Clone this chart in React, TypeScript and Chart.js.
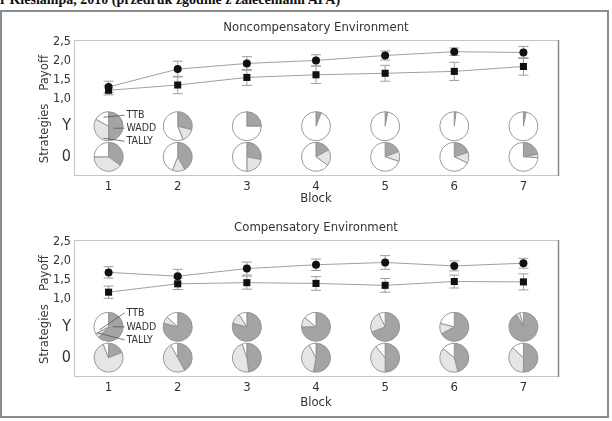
import React, { useEffect, useRef } from 'react';
import { Chart, registerables, ArcElement } from 'chart.js';

Chart.register(...registerables);

const FONT = "'Liberation Sans Narrow', 'DejaVu Sans Condensed', 'Roboto Condensed', 'Roboto', sans-serif";

const blocks = [1, 2, 3, 4, 5, 6, 7];
const yTickValues = [2.5, 2.0, 1.5, 1.0];
const yTickLabels = ['2,5', '2,0', '1,5', '1,0'];
const rowValues = [0.27, -0.54];
const rowLabels = ['Y', '0'];
// slice order, clockwise from 12 o'clock
const strategyNames = ['WADD', 'TALLY', 'TTB'];
const strategyColors = ['#a4a4a4', '#e5e5e5', '#ffffff'];

// Noncompensatory environment
const nonCircle = [1.31, 1.78, 1.93, 2.01, 2.14, 2.24, 2.22];
const nonCircleErr = [0.15, 0.21, 0.18, 0.15, 0.12, 0.1, 0.16];
const nonSquare = [1.22, 1.36, 1.56, 1.63, 1.67, 1.72, 1.85];
const nonSquareErr = [0.12, 0.23, 0.21, 0.23, 0.21, 0.24, 0.23];
// shares in % : [WADD, TALLY, TTB]
const nonYoung = [[50, 33, 17], [29, 15, 56], [25, 0, 75], [6, 0, 94], [3, 0, 97], [2, 0, 98], [3, 0, 97]];
const nonOld = [[35, 40, 25], [42, 14, 44], [28, 22, 50], [17, 18, 65], [19, 11, 70], [20, 12, 68], [22, 4, 74]];

// Compensatory environment
const compCircle = [1.7, 1.6, 1.8, 1.9, 1.96, 1.87, 1.94];
const compCircleErr = [0.15, 0.18, 0.17, 0.15, 0.18, 0.13, 0.13];
const compSquare = [1.18, 1.4, 1.43, 1.41, 1.36, 1.46, 1.45];
const compSquareErr = [0.16, 0.15, 0.17, 0.18, 0.18, 0.17, 0.21];
const compYoung = [[62, 5, 33], [79, 8, 13], [79, 12, 9], [75, 11, 14], [69, 24, 7], [67, 12, 21], [92, 4, 4]];
const compOld = [[19, 75, 6], [42, 50, 8], [48, 47, 5], [53, 39, 8], [50, 39, 11], [46, 40, 14], [50, 37, 13]];

const PIE_R = 14.5;

function boxPlugin() {
  return {
    id: 'plotBox',
    beforeDatasetsDraw(chart: any) {
      const { ctx, chartArea: a } = chart;
      ctx.save();
      ctx.strokeStyle = '#c6c6c6';
      ctx.lineWidth = 1;
      ctx.strokeRect(a.left + 0.5, a.top + 0.5, a.right - a.left, a.bottom - a.top);
      ctx.strokeStyle = '#8a8a8a';
      ctx.lineWidth = 1.5;
      ctx.beginPath();
      ctx.moveTo(a.right + 0.5, a.top);
      ctx.lineTo(a.right + 0.5, a.bottom + 1);
      ctx.stroke();
      // axis group titles
      const y = chart.scales.y;
      ctx.fillStyle = '#3a3a3a';
      ctx.font = `13px ${FONT}`;
      ctx.textAlign = 'center';
      ctx.textBaseline = 'middle';
      const groups = [
        { text: 'Payoff', v: 1.68 },
        { text: 'Strategies', v: 0.08 },
      ];
      groups.forEach((g) => {
        ctx.save();
        ctx.translate(y.left + 45, y.getPixelForValue(g.v));
        ctx.rotate(-Math.PI / 2);
        ctx.fillText(g.text, 0, 0);
        ctx.restore();
      });
      ctx.restore();
    },
  };
}

function errorPlugin(series: { values: number[]; errs: number[] }[]) {
  return {
    id: 'errorBars',
    beforeDatasetsDraw(chart: any) {
      const { ctx, scales } = chart;
      ctx.save();
      ctx.strokeStyle = '#9e9e9e';
      ctx.lineWidth = 1;
      series.forEach((s) => {
        s.values.forEach((v, i) => {
          const x = scales.x.getPixelForValue(blocks[i]);
          const y1 = scales.y.getPixelForValue(v + s.errs[i]);
          const y2 = scales.y.getPixelForValue(v - s.errs[i]);
          ctx.beginPath();
          ctx.moveTo(x, y1);
          ctx.lineTo(x, y2);
          ctx.moveTo(x - 5, y1);
          ctx.lineTo(x + 5, y1);
          ctx.moveTo(x - 5, y2);
          ctx.lineTo(x + 5, y2);
          ctx.stroke();
        });
      });
      ctx.restore();
    },
  };
}

function piePlugin(young: number[][], old: number[][], legendLines: number[][]) {
  return {
    id: 'pies',
    afterDatasetsDraw(chart: any) {
      const { ctx, scales } = chart;
      const rows = [
        { value: rowValues[0], data: young },
        { value: rowValues[1], data: old },
      ];
      rows.forEach((row) => {
        row.data.forEach((shares, i) => {
          const cx = scales.x.getPixelForValue(blocks[i]);
          const cy = scales.y.getPixelForValue(row.value);
          const total = shares.reduce((s, n) => s + n, 0);
          let start = -Math.PI / 2;
          shares.forEach((share, k) => {
            if (share <= 0) return;
            const end = start + (share / total) * Math.PI * 2;
            const arc: any = new (ArcElement as any)({
              x: cx,
              y: cy,
              startAngle: start,
              endAngle: end,
              circumference: end - start,
              innerRadius: 0,
              outerRadius: PIE_R,
            });
            arc.options = {
              backgroundColor: strategyColors[k],
              borderColor: '#8e8e8e',
              borderWidth: 0.9,
              borderAlign: 'center',
              borderJoinStyle: 'bevel',
              borderRadius: 0,
              borderDash: [],
              borderDashOffset: 0,
              offset: 0,
              spacing: 0,
              circular: true,
            };
            arc.draw(ctx);
            start = end;
          });
        });
      });
      // legend labels with leader lines on the first young pie
      const cx = scales.x.getPixelForValue(blocks[0]);
      const cy = scales.y.getPixelForValue(rowValues[0]);
      const legendOrder = ['TTB', 'WADD', 'TALLY'];
      ctx.save();
      ctx.strokeStyle = '#555';
      ctx.lineWidth = 0.8;
      ctx.fillStyle = '#333';
      ctx.font = `10.5px ${FONT}`;
      ctx.textAlign = 'left';
      ctx.textBaseline = 'middle';
      legendOrder.forEach((name, j) => {
        const l = legendLines[j];
        ctx.beginPath();
        ctx.moveTo(cx + l[0], cy + l[1]);
        ctx.lineTo(cx + 16, cy + l[2]);
        ctx.stroke();
        ctx.fillText(name, cx + 18, cy + l[2]);
      });
      ctx.restore();
    },
  };
}

function makeChart(
  canvas: HTMLCanvasElement,
  title: string,
  circle: number[],
  circleErr: number[],
  square: number[],
  squareErr: number[],
  young: number[][],
  old: number[][],
  legendLines: number[][],
  xAxisHeight: number,
  blockPad: number
) {
  return new Chart(canvas, {
    type: 'line',
    data: {
      datasets: [
        {
          data: blocks.map((b, i) => ({ x: b, y: circle[i] })),
          borderColor: '#a0a0a0',
          borderWidth: 1,
          pointStyle: 'circle',
          pointRadius: 4,
          pointBackgroundColor: '#111',
          pointBorderColor: '#111',
          pointBorderWidth: 0,
        },
        {
          data: blocks.map((b, i) => ({ x: b, y: square[i] })),
          borderColor: '#a0a0a0',
          borderWidth: 1,
          pointStyle: 'rect',
          pointRadius: 5,
          pointBackgroundColor: '#111',
          pointBorderColor: '#111',
          pointBorderWidth: 0,
        },
      ],
    },
    options: {
      animation: false,
      responsive: false,
      devicePixelRatio: 1,
      events: [],
      layout: { padding: { left: 0, right: 54, top: 0, bottom: 0 } },
      plugins: {
        legend: { display: false },
        tooltip: { enabled: false },
        title: {
          display: true,
          text: title,
          fullSize: false,
          color: '#333',
          font: { family: FONT, size: 13, weight: 'normal' },
          padding: { top: 7.6, bottom: 4.8 },
        },
      },
      scales: {
        x: {
          type: 'linear',
          min: 0.5,
          max: 7.5,
          grid: { display: false, drawTicks: false },
          border: { display: false },
          afterBuildTicks: (s: any) => {
            s.ticks = blocks.map((v) => ({ value: v }));
          },
          afterFit: (s: any) => {
            s.height = xAxisHeight;
          },
          ticks: {
            callback: (v: any) => String(v),
            color: '#333',
            font: { family: FONT, size: 13 },
            padding: 4,
            autoSkip: false,
            maxRotation: 0,
          },
          title: {
            display: true,
            text: 'Block',
            color: '#333',
            font: { family: FONT, size: 13 },
            padding: { top: 0, bottom: blockPad },
          },
        },
        y: {
          type: 'linear',
          min: -1.02,
          max: 2.55,
          grid: { display: false, drawTicks: false },
          border: { display: false },
          afterBuildTicks: (s: any) => {
            s.ticks = [...yTickValues, ...rowValues].map((v) => ({ value: v }));
          },
          afterFit: (s: any) => {
            s.width = 74;
          },
          ticks: {
            autoSkip: false,
            padding: 3,
            color: '#333',
            font: (c: any) => ({
              family: FONT,
              size: c.tick && c.tick.value < 0.9 ? 16 : 12.5,
            }),
            callback: (v: any) => {
              const i = yTickValues.indexOf(v);
              if (i >= 0) return yTickLabels[i];
              const j = rowValues.indexOf(v);
              return j >= 0 ? rowLabels[j] : '';
            },
          },
        },
      },
    } as any,
    plugins: [
      boxPlugin(),
      errorPlugin([
        { values: circle, errs: circleErr },
        { values: square, errs: squareErr },
      ]),
      piePlugin(young, old, legendLines),
    ],
  });
}

export default function App() {
  const topRef = useRef<HTMLCanvasElement>(null);
  const botRef = useRef<HTMLCanvasElement>(null);

  useEffect(() => {
    document.body.style.margin = '0';
    const c1 = makeChart(
      topRef.current!,
      'Noncompensatory Environment',
      nonCircle,
      nonCircleErr,
      nonSquare,
      nonSquareErr,
      nonYoung,
      nonOld,
      [
        [-5, -9, -11],
        [5, 2, 2],
        [-5, 12, 15],
      ],
      33,
      2
    );
    const c2 = makeChart(
      botRef.current!,
      'Compensatory Environment',
      compCircle,
      compCircleErr,
      compSquare,
      compSquareErr,
      compYoung,
      compOld,
      [
        [-9, 3, -14],
        [4, 0, 0],
        [-11, 6, 13],
      ],
      36,
      2
    );
    return () => {
      c1.destroy();
      c2.destroy();
    };
  }, []);

  return (
    <div style={{ position: 'relative', width: 612, height: 421, overflow: 'hidden', background: '#fff' }}>
      <div
        style={{
          position: 'absolute',
          left: 0,
          top: -8,
          font: 'bold 14px "Liberation Serif", "DejaVu Serif", serif',
          whiteSpace: 'nowrap',
          color: '#111',
        }}
      >
        r Kieslampa, 2010 (przedruk zgodnie z zaleceniami APA)
      </div>
      <div
        style={{
          position: 'absolute',
          left: 0,
          top: 10,
          width: 605,
          height: 404,
          border: '2px solid #8c8c8c',
        }}
      />
      <canvas ref={topRef} width={612} height={196} style={{ position: 'absolute', left: 0, top: 12 }} />
      <canvas ref={botRef} width={612} height={200} style={{ position: 'absolute', left: 0, top: 212 }} />
    </div>
  );
}
